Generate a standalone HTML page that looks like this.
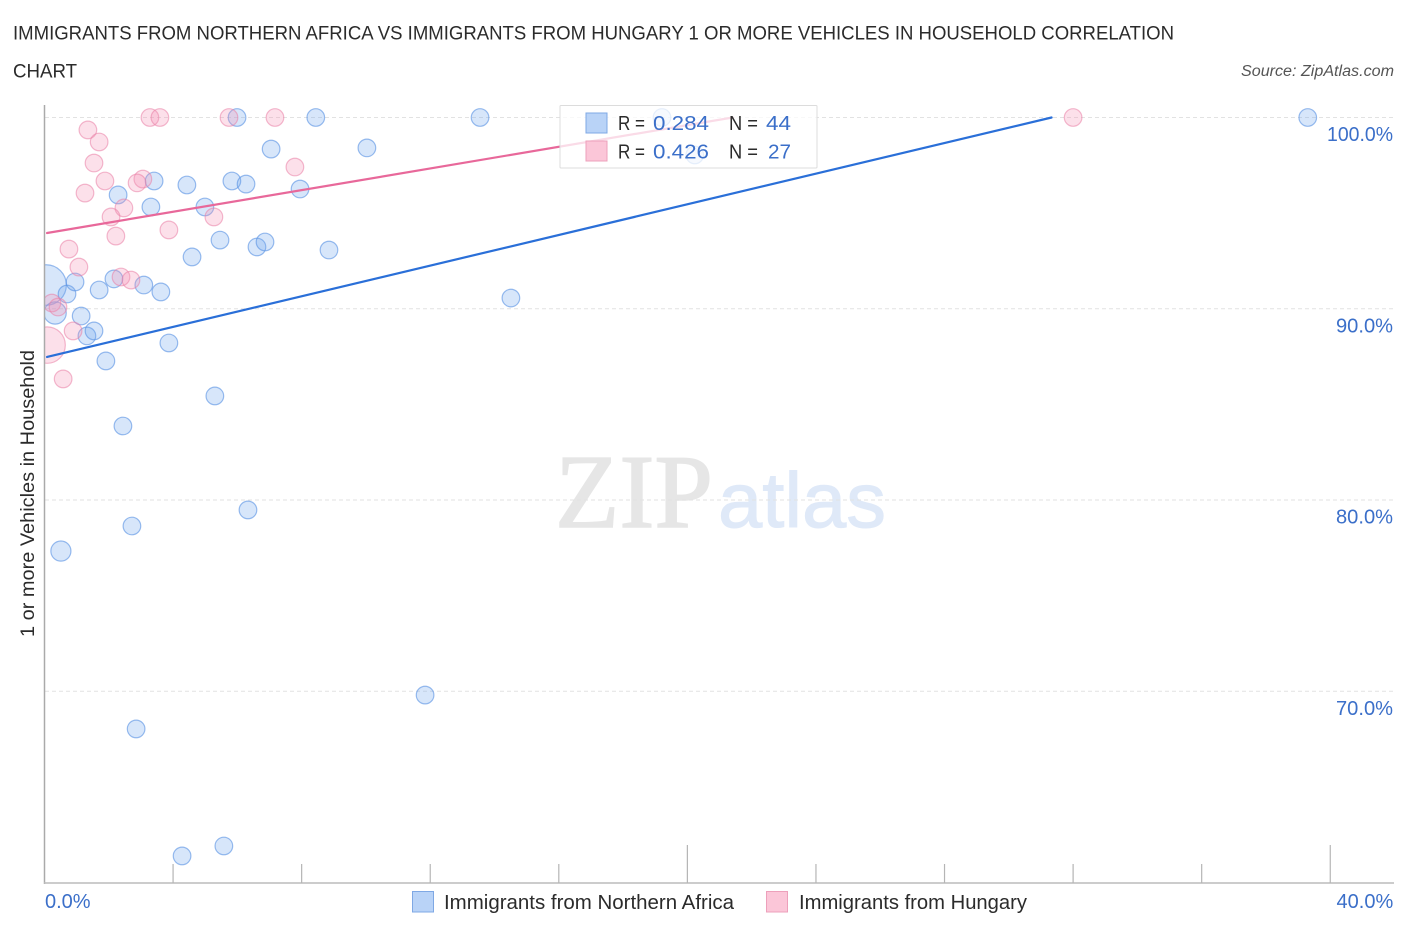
<!DOCTYPE html>
<html lang="en">
<head>
<meta charset="utf-8">
<title>Immigrants from Northern Africa vs Immigrants from Hungary correlation chart</title>
<style>
html,body{margin:0;padding:0;background:#fff;width:1406px;height:930px;overflow:hidden}
svg{display:block}
text{font-family:"Liberation Sans",sans-serif}
</style>
</head>
<body>
<svg id="chart" xmlns="http://www.w3.org/2000/svg" width="1406" height="930" viewBox="0 0 1406 930">
  <rect x="0" y="0" width="1406" height="930" fill="#fff"></rect>

  <text x="13" y="39.5" font-size="19.5" fill="#2b2b2b" textLength="1161" lengthAdjust="spacingAndGlyphs">IMMIGRANTS FROM NORTHERN AFRICA VS IMMIGRANTS FROM HUNGARY 1 OR MORE VEHICLES IN HOUSEHOLD CORRELATION</text>
  <text x="13" y="77.5" font-size="19.5" fill="#2b2b2b" textLength="64" lengthAdjust="spacingAndGlyphs">CHART</text>
  <text x="1241" y="76" font-size="15.5" font-style="italic" fill="#555" textLength="153" lengthAdjust="spacingAndGlyphs">Source: ZipAtlas.com</text>

  <g>
    <text x="555" y="527" font-size="105" fill="#e6e6e6" stroke="#e6e6e6" stroke-width="1.5" textLength="158" lengthAdjust="spacingAndGlyphs" style="font-family:'Liberation Serif',serif">ZIP</text>
    <text x="718" y="527" font-size="78" fill="#dfe9f8" stroke="#dfe9f8" stroke-width="1" textLength="168" lengthAdjust="spacingAndGlyphs" style="font-family:'Liberation Sans',sans-serif">atlas</text>
  </g>

  <g id="grid"></g>
  <g id="marks-blue"></g>
  <g id="marks-pink"></g>
  <rect x="0" y="90" width="44.5" height="793" fill="#fff"></rect>
  <g id="axes"></g>
  <g id="trends"></g>
  <g id="labels"></g>

  <text transform="translate(34 637) rotate(-90)" font-size="19.5" fill="#2b2b2b" textLength="287" lengthAdjust="spacingAndGlyphs">1 or more Vehicles in Household</text>

  <g>
    <rect x="560" y="105.5" width="257" height="62.5" fill="#fff" fill-opacity="0.76" stroke="#dcdcdc" stroke-width="1" rx="1"></rect>
    <rect x="586" y="113" width="21" height="20" fill="#b9d3f7" stroke="#7fa8e4" stroke-width="1"></rect>
    <rect x="586" y="141" width="21" height="20" fill="#fbc6d8" stroke="#eda0bb" stroke-width="1"></rect>
    <text x="618" y="130" font-size="20" fill="#2b2b2b" textLength="27" lengthAdjust="spacingAndGlyphs">R =</text>
    <text x="653" y="130" font-size="20" fill="#3b6fc9" textLength="56" lengthAdjust="spacingAndGlyphs">0.284</text>
    <text x="729" y="130" font-size="20" fill="#2b2b2b" textLength="29" lengthAdjust="spacingAndGlyphs">N =</text>
    <text x="766" y="130" font-size="20" fill="#3b6fc9" textLength="25" lengthAdjust="spacingAndGlyphs">44</text>
    <text x="618" y="158.5" font-size="20" fill="#2b2b2b" textLength="27" lengthAdjust="spacingAndGlyphs">R =</text>
    <text x="653" y="158.5" font-size="20" fill="#3b6fc9" textLength="56" lengthAdjust="spacingAndGlyphs">0.426</text>
    <text x="729" y="158.5" font-size="20" fill="#2b2b2b" textLength="29" lengthAdjust="spacingAndGlyphs">N =</text>
    <text x="768" y="158.5" font-size="20" fill="#3b6fc9" textLength="23" lengthAdjust="spacingAndGlyphs">27</text>
  </g>

  <g>
    <rect x="412.5" y="891.5" width="21" height="20.5" fill="#b9d3f7" stroke="#7fa8e4" stroke-width="1"></rect>
    <text x="444" y="909" font-size="20" fill="#2b2b2b" textLength="290" lengthAdjust="spacingAndGlyphs">Immigrants from Northern Africa</text>
    <rect x="766.5" y="891.5" width="21" height="20.5" fill="#fbc6d8" stroke="#eda0bb" stroke-width="1"></rect>
    <text x="799" y="909" font-size="20" fill="#2b2b2b" textLength="228" lengthAdjust="spacingAndGlyphs">Immigrants from Hungary</text>
  </g>
</svg>
<script>
var blueX = [0.05,0.33,0.70,0.95,1.70,2.16,3.09,3.62,1.14,1.32,1.54,1.91,3.87,5.30,2.44,6.33,2.72,0.51,11.84,2.85,5.58,4.28,14.51,8.85,4.59,5.46,6.61,6.86,4.99,3.31,2.29,3.41,4.43,5.83,6.27,7.95,7.05,10.03,5.99,8.44,13.55,19.21,20.23,39.30];
var blueY = [91.24,89.78,90.77,91.40,90.98,91.56,91.24,90.88,89.62,88.58,88.84,87.27,88.21,85.44,83.87,79.48,78.64,77.33,69.80,68.03,61.91,61.39,90.56,93.07,92.71,93.59,93.23,93.49,95.32,95.32,95.95,96.68,96.47,96.68,96.52,96.26,98.35,98.41,100,100,100,100,98.04,100];
var blueWeight = [5.3,1.6,1,1,1,1,1,1,1,1,1,1,1,1,1,1,1,1.3,1,1,1,1,1,1,1,1,1,1,1,1,1,1,1,1,1,1,1,1,1,1,1,1,1,1];

var pinkX = [3.28,3.59,5.74,7.17,32.0,1.35,1.70,1.54,7.79,1.88,3.06,2.88,1.26,2.47,2.07,5.27,3.87,2.22,0.76,1.07,2.38,2.69,0.23,0.42,0.89,0.08,0.58];
var pinkY = [100,100,100,100,100,99.35,98.72,97.62,97.41,96.68,96.78,96.58,96.05,95.27,94.80,94.80,94.12,93.80,93.12,92.18,91.66,91.50,90.30,90.09,88.84,88.10,86.33];
var pinkWeight = [1,1,1,1,1,1,1,1,1,1,1,1,1,1,1,1,1,1,1,1,1,1,1,1,1,4.3,1];

var blueTrendX = [0.08,31.33];
var blueTrendY = [87.48,100];
var pinkTrendX = [0.08,21.41];
var pinkTrendY = [93.96,100];

var yGridValues = [100,90,80,70];
var yTickLabels = ['100.0%','90.0%','80.0%','70.0%'];
var xTickValues = [0,4,8,12,16,20,24,28,32,36,40];
var xMajorTicks = [20,40];
var xEdgeValues = [0,40];
var xEdgeLabels = ['0.0%','40.0%'];

var SVGNS = 'http://www.w3.org/2000/svg';
function sx(v){ return 44.5 + v * 32.144; }
function sy(v){ return 117.5 + (100 - v) * 19.125; }
function make(tag, parentId, attrs){
  var el = document.createElementNS(SVGNS, tag);
  for (var k in attrs) { el.setAttribute(k, attrs[k]); }
  document.getElementById(parentId).appendChild(el);
  return el;
}

yGridValues.forEach(function(v, i){
  var line = make('line', 'grid', {x1:45, x2:1394, y1:sy(v), y2:sy(v), stroke:'#e2e2e2', 'stroke-width':1, 'stroke-dasharray':'4 3'});
  
  
  var label = make('text', 'labels', {x:1393, y:sy(v) + 23.5, 'text-anchor':'end', 'font-size':20, fill:'#3b6fc9', textLength:yTickLabels[i].length > 5 ? 66 : 57, lengthAdjust:'spacingAndGlyphs'});
  label.textContent = yTickLabels[i];
  
  
});

var yAxis = make('line', 'axes', {x1:44.5, x2:44.5, y1:105, y2:884, stroke:'#aaaaaa', 'stroke-width':1.5});


var xAxis = make('line', 'axes', {x1:44, x2:1394, y1:883, y2:883, stroke:'#bbbbbb', 'stroke-width':1.5});



xTickValues.forEach(function(v){
  if (v === 0) { return; }
  var top = xMajorTicks.indexOf(v) >= 0 ? 845 : 864;
  var tick = make('line', 'axes', {x1:sx(v), x2:sx(v), y1:top, y2:883, stroke:'#b5b5b5', 'stroke-width':1.2});
  
  
});

xEdgeValues.forEach(function(v, i){
  var isLast = i === xEdgeValues.length - 1;
  var label = make('text', 'labels', {x:isLast ? sx(v) + 63 : sx(v) + 0.5, y:908, 'text-anchor':isLast ? 'end' : 'start', 'font-size':20, fill:'#3b6fc9'});
  label.textContent = xEdgeLabels[i];
  
  
});

blueX.forEach(function(v, i){
  var dot = make('circle', 'marks-blue', {cx:sx(v), cy:sy(blueY[i]), r:8.8 * Math.sqrt(blueWeight[i]), fill:'#6ea4ee', 'fill-opacity':0.28, stroke:'#5b93e3', 'stroke-opacity':0.62, 'stroke-width':1.2});
  
  
});

pinkX.forEach(function(v, i){
  var dot = make('circle', 'marks-pink', {cx:sx(v), cy:sy(pinkY[i]), r:8.8 * Math.sqrt(pinkWeight[i]), fill:'#f590b2', 'fill-opacity':0.28, stroke:'#ea7fa5', 'stroke-opacity':0.55, 'stroke-width':1.2});
  
  
});

var blueTrend = make('line', 'trends', {x1:sx(blueTrendX[0]), y1:sy(blueTrendY[0]), x2:sx(blueTrendX[1]), y2:sy(blueTrendY[1]), stroke:'#2a6fd8', 'stroke-width':2.2, 'stroke-linecap':'round'});


var pinkTrend = make('line', 'trends', {x1:sx(pinkTrendX[0]), y1:sy(pinkTrendY[0]), x2:sx(pinkTrendX[1]), y2:sy(pinkTrendY[1]), stroke:'#e8689a', 'stroke-width':2.2, 'stroke-linecap':'round'});


</script>
</body>
</html>
